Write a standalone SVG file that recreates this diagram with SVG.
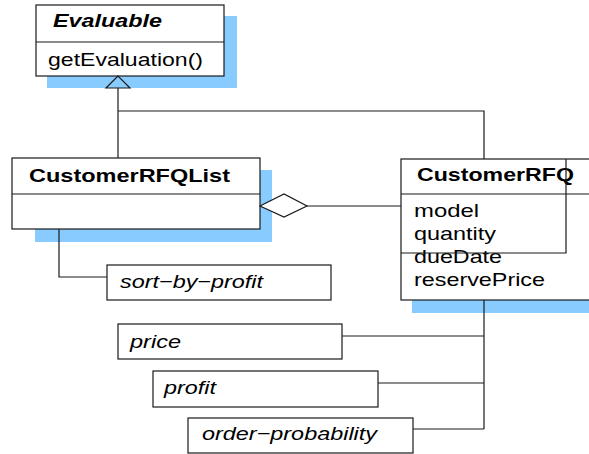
<svg xmlns="http://www.w3.org/2000/svg" width="589" height="454" viewBox="0 0 589 454">
<style>
.shadow{fill:#88ccff;stroke:none}
.box{fill:#ffffff;stroke:#1a1a1a;stroke-width:1.2}
.ln{fill:none;stroke:#1a1a1a;stroke-width:1.2}
text{font-family:"Liberation Sans",Arial,sans-serif;font-size:18.5px;fill:#000}
.b{font-weight:bold}
.i{font-style:italic}
</style>
<rect width="589" height="454" fill="#ffffff"/>
<g id="Evaluable">
<rect class="shadow" x="47" y="16" width="190" height="72"/>
<rect class="box" x="36" y="5" width="188" height="71"/>
<line class="ln" x1="36" y1="42" x2="224" y2="42"/>
<text class="b i" x="53" y="27" textLength="109" lengthAdjust="spacingAndGlyphs">Evaluable</text>
<text x="48" y="66" textLength="155" lengthAdjust="spacingAndGlyphs">getEvaluation()</text>
</g>
<g id="CustomerRFQList">
<rect class="shadow" x="35" y="170" width="237" height="72"/>
<rect class="box" x="12" y="158" width="248" height="71"/>
<line class="ln" x1="12" y1="194" x2="260" y2="194"/>
<text class="b" x="29" y="182" textLength="201" lengthAdjust="spacingAndGlyphs">CustomerRFQList</text>
</g>
<g id="CustomerRFQ">
<rect class="shadow" x="412" y="300" width="190" height="13"/>
<rect class="box" x="401" y="159" width="200" height="141"/>
<line class="ln" x1="401" y1="194" x2="601" y2="194"/>
<text class="b" x="417" y="181" textLength="157" lengthAdjust="spacingAndGlyphs">CustomerRFQ</text>
<text x="414" y="217" textLength="65" lengthAdjust="spacingAndGlyphs">model</text>
<text x="414" y="240" textLength="82" lengthAdjust="spacingAndGlyphs">quantity</text>
<text x="414" y="263" textLength="88" lengthAdjust="spacingAndGlyphs">dueDate</text>
<text x="414" y="286" textLength="131" lengthAdjust="spacingAndGlyphs">reservePrice</text>
<polyline class="ln" points="566,159 566,253 401,253"/>
</g>
<g id="sort-by-profit">
<rect class="box" x="107" y="265" width="224" height="35"/>
<text class="i" x="120" y="288" textLength="143" lengthAdjust="spacingAndGlyphs">sort−by−profit</text>
</g>
<g id="price">
<rect class="box" x="118" y="324" width="224" height="35"/>
<text class="i" x="130" y="348" textLength="51" lengthAdjust="spacingAndGlyphs">price</text>
</g>
<g id="profit">
<rect class="box" x="153" y="371" width="225" height="36"/>
<text class="i" x="164" y="394" textLength="52" lengthAdjust="spacingAndGlyphs">profit</text>
</g>
<g id="order-probability">
<rect class="box" x="188" y="418" width="225" height="35"/>
<text class="i" x="202" y="440" textLength="175" lengthAdjust="spacingAndGlyphs">order−probability</text>
</g>
<g id="connectors">
<polygon class="ln" points="118,76 106,88 130,88"/>
<line class="ln" x1="118" y1="88" x2="118" y2="158"/>
<polyline class="ln" points="118,111 484,111 484,159"/>
<polygon class="ln" fill="#ffffff" style="fill:#ffffff" points="260,206 284,194 307,206 284,217"/>
<line class="ln" x1="307" y1="206" x2="401" y2="206"/>
<polyline class="ln" points="59,229 59,277 107,277"/>
<line class="ln" x1="484" y1="300" x2="484" y2="429"/>
<line class="ln" x1="342" y1="336" x2="484" y2="336"/>
<line class="ln" x1="378" y1="383" x2="484" y2="383"/>
<line class="ln" x1="413" y1="429" x2="484" y2="429"/>
</g>
</svg>
